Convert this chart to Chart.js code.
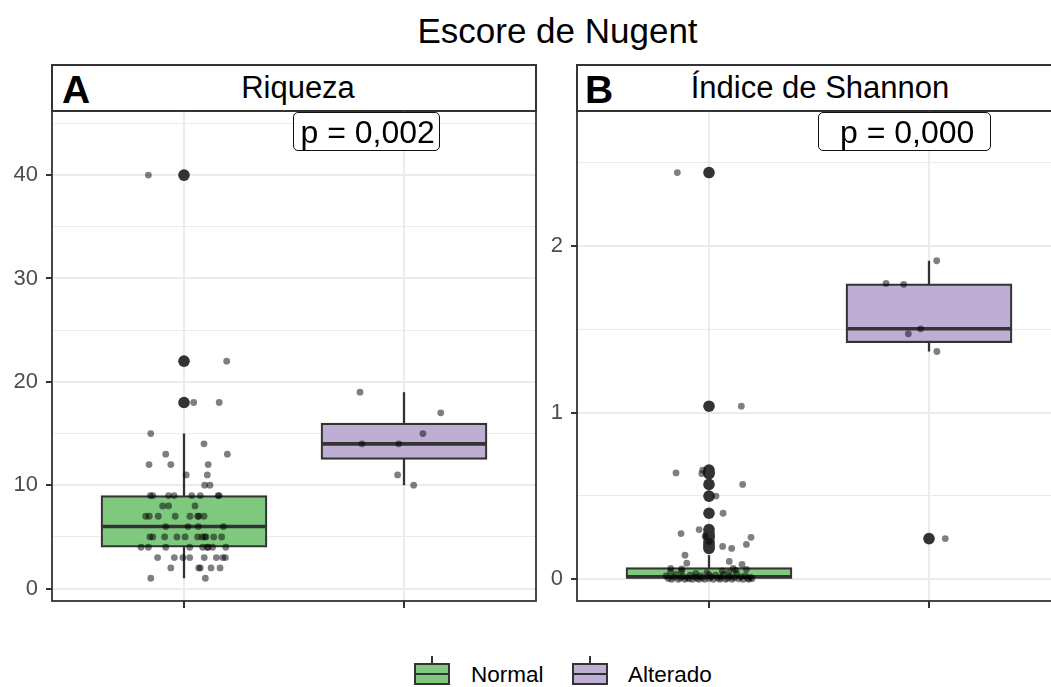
<!DOCTYPE html>
<html>
<head>
<meta charset="utf-8">
<script src="https://cdn.jsdelivr.net/npm/chart.js@4"></script>
<style>
  html, body { margin: 0; padding: 0; background: #fff; overflow: hidden; }
  body { width: 1051px; height: 687px; position: relative; font-family: "Liberation Sans", Arial, sans-serif; }
  .abs { position: absolute; line-height: 1; white-space: nowrap; }
  canvas { position: absolute; }
  .strip { position: absolute; box-sizing: border-box; border: 2px solid #333; background: #fff; }
  .plab { position: absolute; box-sizing: border-box; border: 1.3px solid #111; border-radius: 5px; background: #fff; z-index: 2; }
  .ptxt { z-index: 3; font-size: 32px; color: #000; }
  .key { position: absolute; box-sizing: border-box; width: 36px; height: 22px; border: 2px solid #333; }
  .key::after { content: ""; position: absolute; left: 0; right: 0; top: 8px; height: 2px; background: #333; }
  .stub { position: absolute; width: 2px; height: 7px; background: #333; }
</style>
</head>
<body>

<div class="abs" style="left:557.5px;top:12.7px;font-size:35px;transform:translateX(-50%);">Escore de Nugent</div>

<div class="strip" style="left:51px;top:64px;width:486px;height:48px;"></div>
<div class="abs" style="left:62px;top:70px;font-size:39px;font-weight:bold;">A</div>
<div class="abs" style="left:298px;top:72.3px;font-size:31px;transform:translateX(-50%);">Riqueza</div>

<div class="strip" style="left:576px;top:64px;width:486px;height:48px;"></div>
<div class="abs" style="left:585px;top:70px;font-size:39px;font-weight:bold;">B</div>
<div class="abs" style="left:820px;top:72.3px;font-size:31px;transform:translateX(-50%);">Índice de Shannon</div>

<canvas id="riqueza" width="538" height="522" style="left:0px;top:109px;width:538px;height:522px;"></canvas>
<canvas id="shannon" width="538" height="522" style="left:525px;top:109px;width:538px;height:522px;"></canvas>

<div class="plab" style="left:293px;top:111.5px;width:147px;height:39.5px;"></div>
<div class="abs ptxt" style="left:300.5px;top:116.2px;">p = 0,002</div>
<div class="plab" style="left:818px;top:111.5px;width:173px;height:39px;"></div>
<div class="abs ptxt" style="left:840px;top:115.5px;">p = 0,000</div>

<div class="stub" style="left:431px;top:656px;"></div>
<div class="key" style="left:414px;top:663px;background:#7FC97F;"></div>
<div class="abs" style="left:471px;top:664.3px;font-size:22.5px;">Normal</div>
<div class="stub" style="left:589px;top:656px;"></div>
<div class="key" style="left:572px;top:663px;background:#BEAED4;"></div>
<div class="abs" style="left:628px;top:664.3px;font-size:22.5px;">Alterado</div>

<script>
// grupos
const groups = ['Normal', 'Alterado'];
const xTicks = [1, 2];

// Riqueza: estatisticas das caixas
const riqQ1 = [4, 12.5];
const riqMedian = [6, 14];
const riqQ3 = [9, 16];
const riqLow = [1, 10];
const riqHigh = [15, 19];
const riqOutNormal = [18, 22, 40];
const riqOutAlterado = [];
// Riqueza: pontos (valor e deslocamento do jitter)
const riqNormalVal = [40, 22, 18, 18, 15, 14, 13, 13, 12, 12, 12, 11, 11, 10, 10,
  9, 9, 9, 9, 9, 9, 9, 9, 8, 8, 8, 7, 7, 7, 7, 7, 7, 7, 7, 6, 6, 6, 6,
  5, 5, 5, 5, 5, 5, 5, 5, 5, 5, 5, 4, 4, 4, 4, 4, 4, 4, 4, 4,
  3, 3, 3, 3, 3, 3, 3, 3, 2, 2, 2, 2, 2, 1, 1];
const riqNormalJit = [-0.162, 0.194, 0.044, 0.160, -0.151, 0.091, -0.083, 0.197, -0.159, -0.060, 0.110, 0.010, 0.106, 0.094, 0.118,
  -0.153, -0.142, -0.070, -0.045, 0.035, 0.074, 0.155, 0.160, -0.097, -0.070, 0.050,
  -0.174, -0.158, -0.117, -0.040, 0.027, 0.062, 0.068, 0.091, -0.083, 0.018, 0.065, 0.179,
  -0.155, -0.142, -0.088, -0.032, 0.005, 0.062, 0.082, 0.094, 0.100, 0.135, 0.171,
  -0.195, -0.162, -0.083, 0.026, 0.085, 0.105, 0.110, 0.130, 0.190,
  -0.120, -0.044, -0.005, 0.026, 0.092, 0.147, 0.176, 0.188,
  -0.060, 0.067, 0.074, 0.123, 0.164, -0.151, 0.097];
const riqAltVal = [19, 17, 15, 14, 14, 11, 10];
const riqAltJit = [-0.200, 0.167, 0.086, -0.191, -0.024, -0.029, 0.044];

// Shannon: estatisticas das caixas
const shaQ1 = [0, 1.419];
const shaMedian = [0.015, 1.502];
const shaQ3 = [0.07, 1.772];
const shaLow = [0, 1.366];
const shaHigh = [0.145, 1.91];
const shaOutNormal = [2.439, 1.038, 0.655, 0.638, 0.634, 0.569, 0.499, 0.396, 0.298, 0.274, 0.258, 0.252, 0.227, 0.209, 0.197, 0.185];
const shaOutAlterado = [0.244];
// Shannon: pontos
const shaNormalVal = [2.439, 1.038, 0.655, 0.638, 0.634, 0.569, 0.499, 0.396, 0.298, 0.274, 0.258, 0.252, 0.227, 0.209, 0.197, 0.185,
  0.145, 0.107, 0.097, 0.089, 0.066, 0.066, 0.062,
  0.02, 0.005, 0.0, 0.012, 0.03, 0.0, 0.008, 0.018, 0.0, 0.01, 0.003, 0.025, 0.0, 0.015, 0.006, 0.0, 0.02, 0.01, 0.0, 0.04,
  0.005, 0.015, 0.0, 0.025, 0.008, 0.0, 0.012, 0.03, 0.0, 0.006, 0.018, 0.0, 0.01, 0.035, 0.003, 0.015, 0.0, 0.022, 0.008, 0.0,
  0.012, 0.004, 0.045, 0.05, 0.055, 0.035, 0.042, 0.05, 0.06, 0.028];
const shaNormalJit = [-0.144, 0.147, -0.029, -0.150, -0.033, 0.153, 0.032, 0.064, -0.045, -0.127, -0.018, 0.191, 0.001, 0.170, 0.062, 0.103,
  -0.109, 0.092, -0.101, 0.150, 0.110, -0.174, -0.124,
  -0.195, -0.185, -0.170, -0.160, -0.150, -0.140, -0.130, -0.120, -0.110, -0.100, -0.090, -0.085, -0.075, -0.065, -0.055, -0.045, -0.040, -0.030, -0.020, -0.010,
  0.000, 0.010, 0.020, 0.030, 0.040, 0.050, 0.055, 0.065, 0.075, 0.085, 0.095, 0.105, 0.115, 0.125, 0.135, 0.145, 0.155, 0.165, 0.175, 0.180,
  0.190, 0.195, -0.175, 0.060, 0.120, -0.060, 0.090, -0.125, 0.170, 0.000];
const shaAltVal = [1.91, 1.774, 1.769, 1.502, 1.472, 1.366, 0.244];
const shaAltJit = [0.035, -0.195, -0.115, -0.038, -0.094, 0.036, 0.074];

const FONT = '"Liberation Sans", Arial, sans-serif';
const EDGE = '#333333';
const FILLS = ['#7FC97F', '#BEAED4'];

const frame = {
  id: 'frame',
  afterDatasetsDraw(chart) {
    const a = chart.chartArea, g = chart.ctx;
    g.save();
    g.strokeStyle = EDGE;
    g.lineWidth = 1.8;
    g.strokeRect(a.left, a.top, a.right - a.left, a.bottom - a.top);
    g.restore();
  }
};

function makePanel(id, q1, med, q3, lo, hi, outs, vals, jits, yMin, yMax, step, major) {
  const isMajor = v => Math.abs(v / major - Math.round(v / major)) < 1e-6;
  const datasets = [];
  groups.forEach((g, i) => {
    const p = xTicks[i];
    datasets.push({ type: 'line', data: [{x: p, y: lo[i]}, {x: p, y: hi[i]}],
      borderColor: EDGE, borderWidth: 2.3, pointRadius: 0, fill: false, order: 5 });
    datasets.push({ type: 'line', data: [{x: p - 0.375, y: med[i]}, {x: p + 0.375, y: med[i]}],
      borderColor: EDGE, borderWidth: 3.6, pointRadius: 0, fill: false, order: 3 });
    datasets.push({ type: 'scatter', data: outs[i].map(v => ({x: p, y: v})),
      backgroundColor: EDGE, pointRadius: 5.8, borderWidth: 0, order: 2 });
    datasets.push({ type: 'scatter', data: vals[i].map((v, k) => ({x: p + jits[i][k], y: v})),
      backgroundColor: 'rgba(0,0,0,0.5)', pointRadius: 3.4, borderWidth: 0, order: 1 });
  });
  datasets.push({ type: 'bar', data: groups.map((g, i) => ({x: xTicks[i], y: [q1[i], q3[i]]})),
    backgroundColor: FILLS, borderColor: EDGE, borderWidth: 2.2, borderSkipped: false,
    barThickness: 166, order: 4 });

  return new Chart(document.getElementById(id), {
    type: 'scatter',
    data: { datasets },
    options: {
      responsive: false,
      animation: false,
      events: [],
      layout: { autoPadding: false, padding: { top: 2, right: 2, left: 0, bottom: 0 } },
      plugins: { legend: { display: false }, tooltip: { enabled: false } },
      scales: {
        x: {
          type: 'linear', min: 0.4, max: 2.6, offset: false,
          afterBuildTicks: s => { s.ticks = xTicks.map(v => ({value: v})); },
          afterFit: s => { s.height = 30; s.paddingLeft = 0; s.paddingRight = 0; },
          border: { display: false },
          ticks: { callback: () => '', font: { family: FONT, size: 22 } },
          grid: { offset: false, color: '#EBEBEB', lineWidth: 2, tickLength: 7, tickWidth: 2, tickColor: EDGE }
        },
        y: {
          min: yMin, max: yMax,
          afterFit: s => { s.width = 52; s.paddingTop = 0; s.paddingBottom = 0; },
          border: { display: false },
          ticks: {
            stepSize: step, includeBounds: false, autoSkip: false, padding: 8,
            color: '#4D4D4D', font: { family: FONT, size: 22 },
            callback: v => isMajor(v) ? String(Math.round(v)) : ''
          },
          grid: {
            offset: false,
            color: '#EBEBEB',
            lineWidth: c => isMajor(c.tick.value) ? 2 : 1,
            tickLength: 6, tickWidth: 2,
            tickColor: c => isMajor(c.tick.value) ? EDGE : 'rgba(0,0,0,0)'
          }
        }
      }
    },
    plugins: [frame]
  });
}

makePanel('riqueza', riqQ1, riqMedian, riqQ3, riqLow, riqHigh,
  [riqOutNormal, riqOutAlterado], [riqNormalVal, riqAltVal], [riqNormalJit, riqAltJit],
  -1.2, 46.2, 5, 10);
makePanel('shannon', shaQ1, shaMedian, shaQ3, shaLow, shaHigh,
  [shaOutNormal, shaOutAlterado], [shaNormalVal, shaAltVal], [shaNormalJit, shaAltJit],
  -0.13, 2.808, 0.5, 1);
</script>
</body>
</html>
